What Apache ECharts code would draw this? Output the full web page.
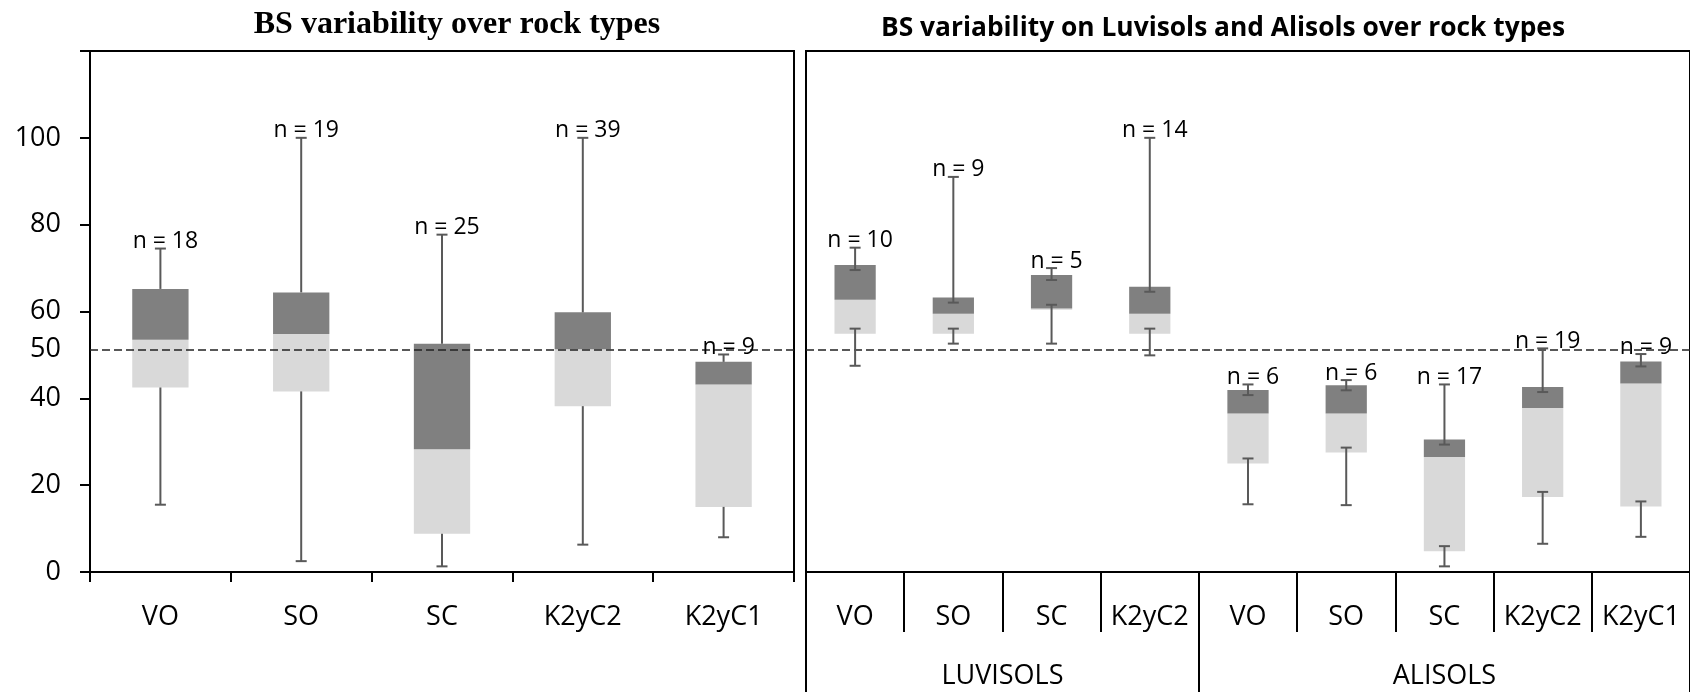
<!DOCTYPE html>
<html>
<head>
<meta charset="utf-8">
<title>BS variability over rock types</title>
<script src="https://cdn.jsdelivr.net/npm/echarts@6/dist/echarts.min.js"></script>
<style>
  html, body { margin: 0; padding: 0; background: #fff; }
  #chart { width: 1690px; height: 692px; }
</style>
</head>
<body>
<div id="chart"></div>
<script>
// left panel: BS over rock types (all soils)
const rockTypes = ['VO', 'SO', 'SC', 'K2yC2', 'K2yC1'];
const rockMin = [15.5, 2.5, 1.3, 6.3, 8.0];
const rockQ1 = [42.5, 41.6, 8.8, 38.2, 15.0];
const rockMed = [53.5, 54.8, 28.3, 51.3, 43.2];
const rockQ3 = [65.2, 64.4, 52.6, 59.8, 48.4];
const rockMax = [74.5, 100, 77.7, 100, 50.1];
const rockN = [18, 19, 25, 39, 9];

// right panel: Luvisols and Alisols over rock types
const soilGroups = ['LUVISOLS', 'ALISOLS'];
const soilGroupSizes = [4, 5];
const soilRocks = ['VO', 'SO', 'SC', 'K2yC2', 'VO', 'SO', 'SC', 'K2yC2', 'K2yC1'];
const soilMin = [47.5, 52.6, 52.6, 49.9, 15.6, 15.4, 1.3, 6.5, 8.1];
const soilQ1 = [54.9, 54.9, 60.4, 54.9, 25.0, 27.5, 4.8, 17.3, 15.1];
const soilMed = [62.7, 59.5, 60.7, 59.5, 36.5, 36.5, 26.5, 37.8, 43.4];
const soilQ3 = [70.7, 63.2, 68.4, 65.7, 41.9, 43.0, 30.5, 42.6, 48.5];
const soilMax = [74.7, 91.0, 70.0, 100, 43.2, 44.2, 43.2, 51.5, 50.2];
const soilN = [10, 9, 5, 14, 6, 6, 17, 19, 9];

const yMax = 120;
const yStep = 20;
const refValue = 51.3;   // dashed reference line
const refLabel = '50';

const leftTitle = 'BS variability over rock types';
const rightTitle = 'BS variability on Luvisols and Alisols over rock types';

const FONT = '"Open Sans", sans-serif';
const DARK = '#808080';
const LIGHT = '#d9d9d9';
const WHISKER = '#595959';

// group separators / centres on a 0..9 helper axis
const groupEdges = [0];
soilGroupSizes.forEach(s => groupEdges.push(groupEdges[groupEdges.length - 1] + s));
const groupCenters = soilGroupSizes.map((s, i) => groupEdges[i] + s / 2);

// the right title is condensed (Calibri-like), squeeze Open Sans to same width
const ctx = document.createElement('canvas').getContext('2d');
ctx.font = 'bold 26px "Open Sans"';
const rightTitleScale = 684 / ctx.measureText(rightTitle).width;

function diff(a, b) {
  return a.map((v, i) => +(v - b[i]).toFixed(2));
}

function whiskerRows(mins, q1s, q3s, maxs, ns) {
  return mins.map((v, i) => [i, v, q1s[i], q3s[i], maxs[i], ns[i]]);
}

function makeWhisker(innerCaps) {
  return function (params, api) {
    const idx = api.value(0);
    const x = api.coord([idx, 0])[0];
    const yMin = api.coord([idx, api.value(1)])[1];
    const yQ1 = api.coord([idx, api.value(2)])[1];
    const yQ3 = api.coord([idx, api.value(3)])[1];
    const yMaxP = api.coord([idx, api.value(4)])[1];
    const cap = 5.5;
    const st = { stroke: WHISKER, lineWidth: 2 };
    const top = innerCaps ? yQ3 + 5 : yQ3;
    const bot = innerCaps ? yQ1 - 5 : yQ1;
    const kids = [
      { type: 'line', shape: { x1: x, y1: yMaxP, x2: x, y2: top }, style: st },
      { type: 'line', shape: { x1: x, y1: yMin, x2: x, y2: bot }, style: st },
      { type: 'line', shape: { x1: x - cap, y1: yMaxP, x2: x + cap, y2: yMaxP }, style: st },
      { type: 'line', shape: { x1: x - cap, y1: yMin, x2: x + cap, y2: yMin }, style: st },
      {
        type: 'text',
        x: x + 5,
        y: yMaxP - 7,
        style: {
          text: 'n = ' + api.value(5),
          font: '23px ' + FONT,
          fill: '#000',
          textAlign: 'center',
          textVerticalAlign: 'middle'
        }
      }
    ];
    if (innerCaps) {
      kids.push({ type: 'line', shape: { x1: x - cap, y1: top, x2: x + cap, y2: top }, style: st });
      kids.push({ type: 'line', shape: { x1: x - cap, y1: bot, x2: x + cap, y2: bot }, style: st });
    }
    return { type: 'group', children: kids };
  };
}

const axisBlack = { lineStyle: { color: '#000', width: 2 } };
const catLabel = { interval: 0, color: '#000', fontSize: 27, fontFamily: FONT, margin: 32 };

function refLine(withLabel) {
  return {
    silent: true,
    symbol: 'none',
    lineStyle: { color: '#222', type: [8, 4], width: 1.5 },
    label: withLabel
      ? { show: true, position: 'start', formatter: refLabel, color: '#000', fontSize: 27, fontFamily: FONT, distance: 29 }
      : { show: false },
    data: [{ yAxis: refValue }]
  };
}

function boxSeries(xi, yi, stack, q1, med, q3, width, withLabel) {
  return [
    {
      type: 'bar', xAxisIndex: xi, yAxisIndex: yi, stack: stack, barWidth: width,
      data: q1, itemStyle: { color: 'transparent' }, silent: true,
      markLine: refLine(withLabel)
    },
    {
      type: 'bar', xAxisIndex: xi, yAxisIndex: yi, stack: stack, barWidth: width,
      data: diff(med, q1), itemStyle: { color: LIGHT }
    },
    {
      type: 'bar', xAxisIndex: xi, yAxisIndex: yi, stack: stack, barWidth: width,
      data: diff(q3, med), itemStyle: { color: DARK }
    }
  ];
}

const chart = echarts.init(document.getElementById('chart'));
chart.setOption({
  animation: false,
  backgroundColor: '#fff',
  graphic: [
    {
      type: 'text', x: 457, y: 25,
      style: { text: leftTitle, font: 'bold 32px "Liberation Serif", serif', fill: '#000', textAlign: 'center', textVerticalAlign: 'middle' }
    },
    {
      type: 'text', x: 1223, y: 29, scaleX: rightTitleScale,
      style: { text: rightTitle, font: 'bold 26px ' + FONT, fill: '#000', textAlign: 'center', textVerticalAlign: 'middle' }
    }
  ],
  grid: [
    { left: 90, right: 896, top: 51, bottom: 120, show: true, borderColor: '#000', borderWidth: 2 },
    { left: 806, right: -3, top: 51, bottom: 120, show: true, borderColor: '#000', borderWidth: 2 }
  ],
  xAxis: [
    {
      gridIndex: 0, type: 'category', data: rockTypes,
      axisLine: axisBlack,
      axisTick: { show: true, interval: 0, alignWithLabel: false, length: 10, lineStyle: { color: '#000', width: 2 } },
      axisLabel: catLabel
    },
    {
      gridIndex: 1, type: 'category', data: soilRocks,
      axisLine: axisBlack,
      axisTick: { show: true, interval: 0, alignWithLabel: false, length: 60, lineStyle: { color: '#000', width: 2 } },
      axisLabel: catLabel
    },
    {
      gridIndex: 1, type: 'value', min: 0, max: groupEdges[groupEdges.length - 1], position: 'bottom',
      axisLine: { show: false },
      splitLine: { show: false },
      axisTick: { show: true, customValues: groupEdges, length: 125, lineStyle: { color: '#000', width: 2 } },
      axisLabel: {
        customValues: groupCenters,
        formatter: v => soilGroups[groupCenters.indexOf(v)],
        color: '#000', fontSize: 27, fontFamily: FONT, margin: 91
      }
    }
  ],
  yAxis: [
    {
      gridIndex: 0, type: 'value', min: 0, max: yMax, interval: yStep,
      axisLine: { show: true, lineStyle: { color: '#000', width: 2 } },
      axisTick: { show: true, length: 10, lineStyle: { color: '#000', width: 2 } },
      splitLine: { show: false },
      axisLabel: {
        color: '#000', fontSize: 27, fontFamily: FONT, margin: 29,
        formatter: v => (v === yMax ? '' : String(v))
      }
    },
    {
      gridIndex: 1, type: 'value', min: 0, max: yMax, interval: yStep, show: false,
      splitLine: { show: false }
    }
  ],
  series: [
    ...boxSeries(0, 0, 'left', rockQ1, rockMed, rockQ3, '40%', true),
    ...boxSeries(1, 1, 'right', soilQ1, soilMed, soilQ3, '42%', false),
    {
      type: 'custom', xAxisIndex: 0, yAxisIndex: 0,
      renderItem: makeWhisker(false),
      encode: { x: 0, y: [1, 4] },
      data: whiskerRows(rockMin, rockQ1, rockQ3, rockMax, rockN),
      z: 5
    },
    {
      type: 'custom', xAxisIndex: 1, yAxisIndex: 1,
      renderItem: makeWhisker(true),
      encode: { x: 0, y: [1, 4] },
      data: whiskerRows(soilMin, soilQ1, soilQ3, soilMax, soilN),
      z: 5
    }
  ]
});
</script>
</body>
</html>
